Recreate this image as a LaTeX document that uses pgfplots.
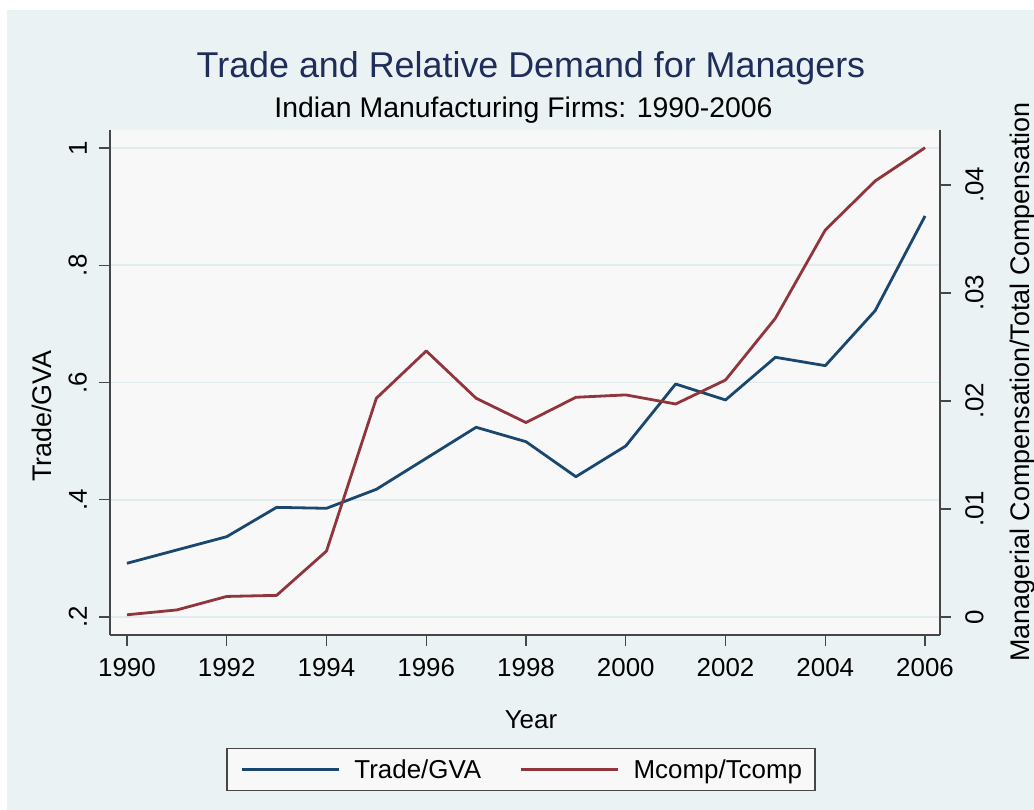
\documentclass[border=0pt]{standalone}
\usepackage{pgfplots}
\usepackage{pgfplotstable}
\pgfplotsset{compat=1.18}
\usepackage{fontspec}
\setmainfont{Liberation Sans}
\definecolor{bgblue}{RGB}{234,242,243}
\definecolor{plotbg}{RGB}{248,248,248}
\definecolor{gridc}{RGB}{224,236,238}
\definecolor{navyS}{RGB}{26,71,111}
\definecolor{maroonS}{RGB}{144,53,59}
\definecolor{titlec}{RGB}{30,45,90}
\definecolor{axc}{RGB}{70,70,70}

\pgfplotstableread{
year trade
1990 0.2916
1991 0.3143
1992 0.3370
1993 0.3870
1994 0.3854
1995 0.4178
1996 0.4707
1997 0.5236
1998 0.4990
1999 0.4393
2000 0.4917
2001 0.5974
2002 0.5702
2003 0.6430
2004 0.6287
2005 0.7225
2006 0.8840
}\tradetab

\pgfplotstableread{
year mcomp
1990 0.0002
1991 0.00065
1992 0.0019
1993 0.0020
1994 0.0061
1995 0.02025
1996 0.02463
1997 0.02025
1998 0.0180
1999 0.02034
2000 0.02056
2001 0.01972
2002 0.02194
2003 0.02766
2004 0.03583
2005 0.04037
2006 0.04345
}\mcomptab

\begin{document}
\begin{tikzpicture}[x=1bp,y=1bp]
\useasboundingbox (0,0) rectangle (1034,810);
\fill[white] (0,0) rectangle (1034,810);
\fill[bgblue] (7,0) rectangle (1034,800);
\node[anchor=base, text=titlec, inner sep=0pt, font=\fontsize{36}{40}\selectfont] at (531,732) {Trade and Relative Demand for Managers};
\node[anchor=base, text=black, inner sep=0pt, font=\fontsize{28.5}{32}\selectfont] at (523.5,692) {Indian Manufacturing Firms: 1990-2006};

\begin{axis}[
  at={(110bp,175bp)}, anchor=south west,
  scale only axis, width=830bp, height=505bp,
  xmin=1989.66, xmax=2006.3, ymin=0.1693, ymax=1.0307,
  axis background/.style={fill=plotbg},
  axis x line*=bottom, axis y line*=left,
  axis line style={axc, line width=1.3bp},
  every outer x axis line/.append style={-}, every outer y axis line/.append style={-},
  xtick={1990,1992,1994,1996,1998,2000,2002,2004,2006},
  xticklabels={1990,1992,1994,1996,1998,2000,2002,2004,2006},
  ytick={0.2,0.4,0.6,0.8,1},
  yticklabels={.2,.4,.6,.8,1},
  scaled y ticks=false,
  tick align=outside, major tick length=11bp,
  tick style={axc, line width=1.3bp},
  ymajorgrids, grid style={gridc, line width=1.6bp},
  ticklabel style={font=\fontsize{26}{30}\selectfont, inner sep=0pt, text=black},
  xticklabel style={anchor=north},
  yticklabel style={rotate=90, anchor=south},
  xticklabel shift=12bp, yticklabel shift=12bp,
  xlabel={Year},
  xlabel style={at={(axis description cs:0.5072,-0.1842)}, anchor=base, inner sep=0pt, font=\fontsize{26}{30}\selectfont},
  ylabel={Trade/GVA},
  ylabel style={at={(axis description cs:-0.0819,0.4337)}, anchor=center, rotate=0, inner sep=0pt, font=\fontsize{27}{30}\selectfont},
  legend columns=2,
  legend cell align=left,
  legend image code/.code={\draw[#1, line width=3.5bp] (0bp,0bp) -- (97bp,0bp);},
  legend style={at={(axis description cs:0.4952,-0.2663)}, anchor=center,
    draw=axc, line width=1.2bp, fill=plotbg,
    font=\fontsize{26}{30}\selectfont,
    inner xsep=13bp, inner ysep=11bp,
    nodes={inner sep=0pt},
    /tikz/every odd column/.append style={column sep=14bp},
    /tikz/every even column/.append style={column sep=38bp}},
]
\addplot[navyS, line width=2.8bp, line join=round] table[x=year, y=trade] {\tradetab};
\addlegendentry{Trade/GVA}
\addlegendimage{maroonS, line width=2.8bp}
\addlegendentry{Mcomp/Tcomp}
\end{axis}

\begin{axis}[
  at={(110bp,175bp)}, anchor=south west,
  scale only axis, width=830bp, height=505bp,
  xmin=1989.66, xmax=2006.3, ymin=-0.00167, ymax=0.04509,
  axis x line=none, axis y line*=right,
  axis line style={axc, line width=1.3bp},
  every outer y axis line/.append style={-},
  ytick={0,0.01,0.02,0.03,0.04},
  yticklabels={0,.01,.02,.03,.04},
  scaled y ticks=false,
  tick align=outside, major tick length=11bp,
  tick style={axc, line width=1.3bp},
  ticklabel style={font=\fontsize{26}{30}\selectfont, inner sep=0pt, text=black},
  yticklabel style={rotate=90, anchor=north},
  yticklabel shift=14bp,
  ylabel={Managerial Compensation/Total Compensation},
  ylabel style={at={(axis description cs:1.1,0.501)}, anchor=center, rotate=0, inner sep=0pt, font=\fontsize{27}{30}\selectfont},
]
\addplot[maroonS, line width=2.8bp, line join=round] table[x=year, y=mcomp] {\mcomptab};
\end{axis}
\end{tikzpicture}
\end{document}
